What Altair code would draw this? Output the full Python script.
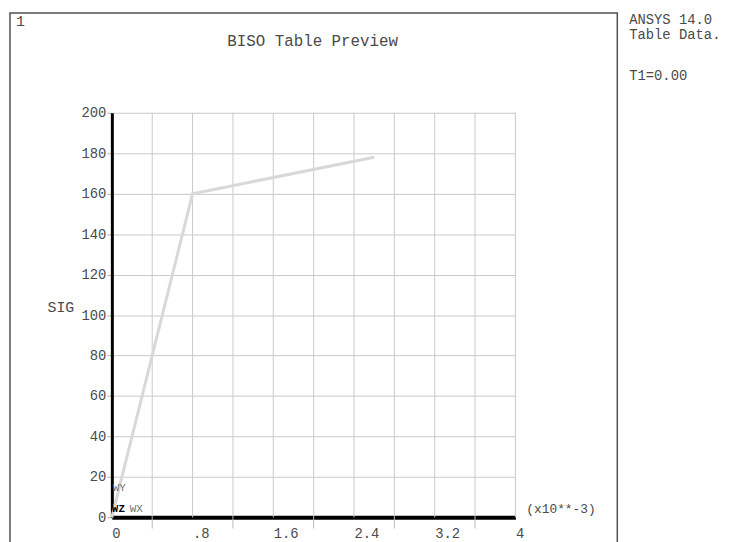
import json
import altair as alt
import pandas as pd

# ---- data ----
strain = [0.0, 0.8, 2.6]          # x10**-3
stress = [0.0, 160.0, 178.0]      # SIG
x_label_vals = [0.0, 0.8, 1.6, 2.4, 3.2, 4.0]
x_tick_labels = ["0", ".8", "1.6", "2.4", "3.2", "4"]
x_grid_vals = [0.4, 0.8, 1.2, 1.6, 2.0, 2.4, 2.8, 3.2, 3.6, 4.0]
x_minor_ticks = [0.4, 1.2, 2.0, 2.8, 3.6]
y_vals = [0, 20, 40, 60, 80, 100, 120, 140, 160, 180, 200]

FONT = "Liberation Mono"
TXT = "#4a4a4a"
W, H = 408, 409

xs = alt.Scale(domain=[0, 4], nice=False, zero=False)
ys = alt.Scale(domain=[0, 200], nice=False, clamp=False)

curve = pd.DataFrame({"x": strain, "y": stress})
grid_df = pd.DataFrame({"x": x_grid_vals})
minor_df = pd.DataFrame({"x": x_minor_ticks})

label_expr = f"{json.dumps(x_tick_labels)}[round(datum.value / 0.8)]"

x_axis = alt.Axis(
    values=x_label_vals,
    labelExpr=label_expr,
    grid=False,
    ticks=False,
    domainColor="black",
    domainWidth=4,
    labelAlign="left",
    labelBaseline="middle",
    labelPadding=16,
    labelFont=FONT,
    labelFontSize=14,
    labelColor=TXT,
    labelFlush=False,
    labelOverlap=False,
    title=None,
)

y_axis = alt.Axis(
    values=y_vals,
    grid=True,
    gridColor="#c9c9c9",
    gridWidth=1,
    ticks=True,
    tickColor="#b0b0b0",
    tickSize=5,
    domainColor="black",
    domainWidth=3,
    labelFont=FONT,
    labelFontSize=14,
    labelColor=TXT,
    labelPadding=1,
    labelBaseline="middle",
    labelFlush=False,
    title=None,
)

# frame around the graphics window
frame = alt.Chart(pd.DataFrame({"a": [0]})).mark_rect(
    fill=None, stroke="#505050", strokeWidth=1.5
).encode(
    x=alt.value(-103), x2=alt.value(511), y=alt.value(-101), y2=alt.value(445)
)

xgrid = alt.Chart(grid_df).mark_rule(color="#c9c9c9", strokeWidth=1).encode(
    x=alt.X("x:Q", scale=xs, axis=x_axis)
)

xminor = alt.Chart(minor_df).mark_rule(color="#b8b8b8", strokeWidth=1).encode(
    x=alt.X("x:Q", scale=xs, axis=x_axis),
    y=alt.Y(datum=0, scale=ys, axis=y_axis),
    y2=alt.Y2(datum=-5.5),
)

line = alt.Chart(curve).mark_line(color="#d8d8d8", strokeWidth=3).encode(
    x=alt.X("x:Q", scale=xs, axis=x_axis),
    y=alt.Y("y:Q", scale=ys, axis=y_axis),
)


def txt(text, x, y, size=15, color=TXT, align="left", weight="normal"):
    return alt.Chart(pd.DataFrame({"t": [text]})).mark_text(
        font=FONT, fontSize=size, color=color, align=align, baseline="middle",
        fontWeight=weight,
    ).encode(text="t:N", x=alt.value(x), y=alt.value(y))


texts = [
    txt("1", -97, -93, size=15),
    txt("BISO Table Preview", 203, -73, size=16, align="center"),
    txt("ANSYS 14.0", 523, -94, size=14),
    txt("Table Data.", 523, -79, size=14),
    txt("T1=0.00", 523, -37, size=14),
    txt("SIG", -65, 196, size=15),
    txt("(x10**-3)", 419, 401, size=13),
    txt("WY", 1, 379, size=11, color="#707070"),
    txt("WZ", 0, 401, size=11, color="black", weight="bold"),
    txt("WX", 18, 401, size=11, color="#707070"),
]

chart = alt.layer(frame, xgrid, line, xminor, *texts).properties(
    width=W,
    height=H,
    padding={"left": 105, "top": 103, "right": 222, "bottom": 22},
    autosize=alt.AutoSizeParams(type="none"),
    background="white",
).configure_view(stroke=None)

chart.save("out.html", embed_options={"renderer": "svg", "actions": False})
